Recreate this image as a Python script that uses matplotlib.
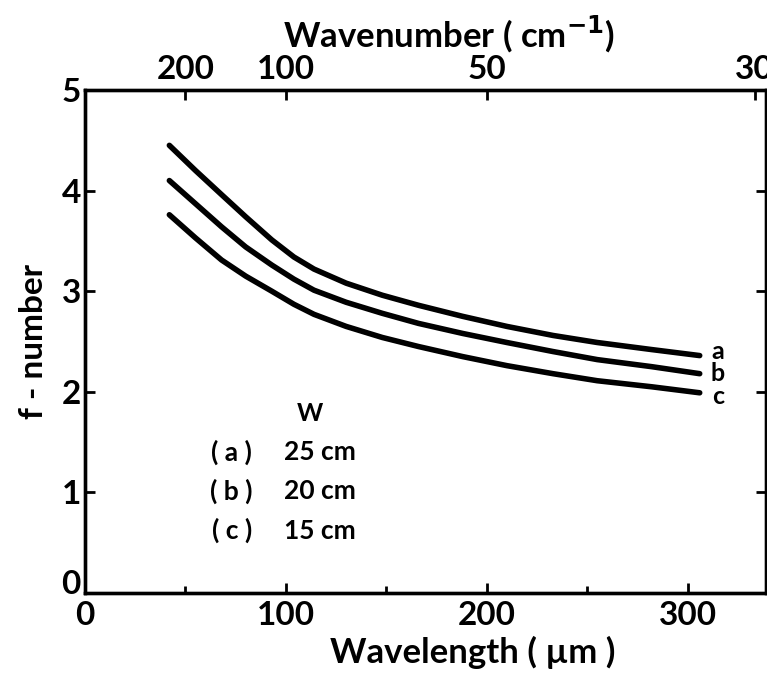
import matplotlib.pyplot as plt
from matplotlib.transforms import ScaledTranslation

plt.rcParams['font.family'] = ['Lato', 'DejaVu Sans']
plt.rcParams['font.weight'] = 'bold'
plt.rcParams['axes.labelweight'] = 'bold'
plt.rcParams['mathtext.default'] = 'bf'

# wavelength (um) and f-number for the three mirror widths W
wavelength = [42, 55, 68, 80, 93, 104, 114, 130, 148, 166, 188, 210, 233, 255, 282, 306]
f_a = [4.45, 4.20, 3.96, 3.74, 3.51, 3.34, 3.22, 3.08, 2.96, 2.86, 2.75, 2.65, 2.56, 2.49, 2.42, 2.36]
f_b = [4.10, 3.87, 3.64, 3.44, 3.26, 3.12, 3.01, 2.89, 2.78, 2.68, 2.58, 2.49, 2.40, 2.32, 2.25, 2.18]
f_c = [3.76, 3.53, 3.31, 3.15, 3.00, 2.87, 2.77, 2.65, 2.54, 2.45, 2.35, 2.26, 2.18, 2.11, 2.05, 1.99]
curve_names = ['a', 'b', 'c']
widths = ['25 cm', '20 cm', '15 cm']

wavenumber_ticks = [200, 100, 50, 30]

fig = plt.figure(figsize=(7.67, 6.8), dpi=100)
ax = fig.add_axes([0.1108, 0.128, 0.8879, 0.7396])

label_y = [2.40, 2.18, 1.95]
for fvals, name, ly in zip([f_a, f_b, f_c], curve_names, label_y):
    ax.plot(wavelength, fvals, color='black', lw=4, solid_capstyle='round')
    ax.text(315, ly, name, fontsize=18, ha='center', va='center')

ax.set_xlim(0, 339)
ax.set_ylim(0, 5)
ax.set_xticks([0, 100, 200, 300])
ax.set_xticks([50, 150, 250], minor=True)
ax.set_yticks([0, 1, 2, 3, 4, 5])
ax.tick_params(which='both', direction='in', width=2, top=False, right=True,
               labelsize=24, pad=6)
ax.tick_params(which='major', length=7)
ax.tick_params(which='minor', length=5)
ax.tick_params(axis='y', pad=3)
for s in ax.spines.values():
    s.set_linewidth(2.4)

# lift the "0" on the f-number axis clear of the wavelength zero
zero_lbl = ax.yaxis.get_major_ticks()[0].label1
zero_lbl.set_transform(zero_lbl.get_transform()
                       + ScaledTranslation(0, 8 / 72, fig.dpi_scale_trans))

ax.set_xlabel('Wavelength ( µm )', fontsize=25, labelpad=4)
ax.xaxis.set_label_coords(0.57, -0.085)
ax.set_ylabel('f - number', fontsize=24, labelpad=10)

# wavenumber scale along the top
top = ax.twiny()
top.set_xlim(ax.get_xlim())
top.set_xticks([1e4 / k for k in wavenumber_ticks])
top.set_xticklabels([str(k) for k in wavenumber_ticks])
top.tick_params(direction='in', length=7, width=2, labelsize=24, pad=4)
top.set_xlabel('Wavenumber ( cm$^{-1}$)', fontsize=25, labelpad=10)
top.xaxis.set_label_coords(0.535, 1.085)
for s in top.spines.values():
    s.set_linewidth(2.4)

# key for the mirror widths
ax.text(112, 1.78, 'W', fontsize=18, ha='center', va='center')
for i, (name, w) in enumerate(zip(curve_names, widths)):
    y = 1.40 - i * 0.39
    ax.text(73, y, '( %s )' % name, fontsize=19, ha='center', va='center')
    ax.text(99, y, w, fontsize=19, ha='left', va='center')

fig.savefig('out.png', dpi=100)
